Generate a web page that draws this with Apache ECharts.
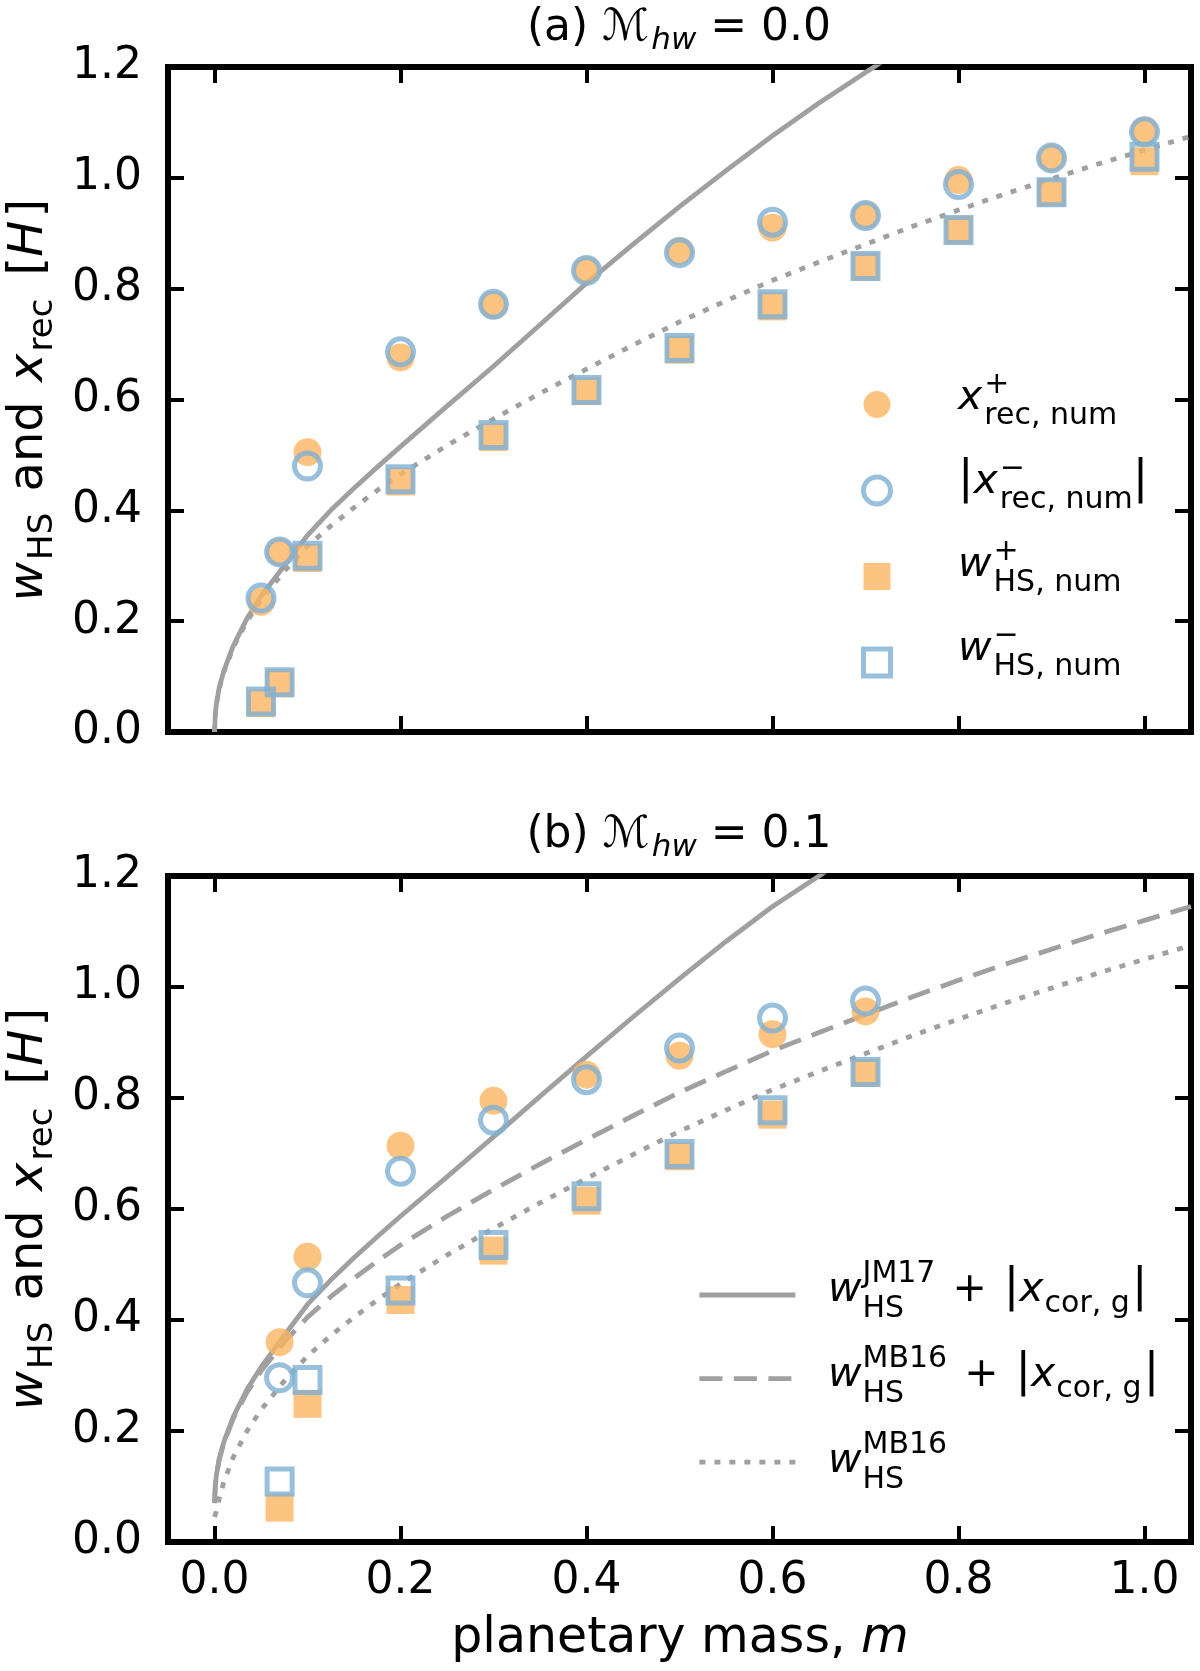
<!DOCTYPE html>
<html>
<head>
<meta charset="utf-8">
<script src="https://cdn.jsdelivr.net/npm/echarts@6/dist/echarts.min.js"></script>
<style>
html, body { margin: 0; background: #fff; }
#graph { width: 1200px; height: 1671px; }
</style>
</head>
<body>
<div id="graph"></div>
<script>
"use strict"

// ---- panel (a): M_hw = 0.0 ----
const massA = [0.05, 0.07, 0.1, 0.2, 0.3, 0.4, 0.5, 0.6, 0.7, 0.8, 0.9, 1.0];
const xrecPlusA = [0.235, 0.325, 0.505, 0.676, 0.770, 0.833, 0.868, 0.910, 0.932, 0.996, 1.036, 1.085];
const xrecMinusA = [0.242, 0.325, 0.480, 0.686, 0.772, 0.833, 0.865, 0.920, 0.932, 0.988, 1.036, 1.083];
const whsPlusA = [0.052, 0.088, 0.314, 0.452, 0.532, 0.615, 0.690, 0.768, 0.840, 0.906, 0.974, 1.030];
const whsMinusA = [0.055, 0.090, 0.318, 0.456, 0.536, 0.617, 0.693, 0.772, 0.841, 0.906, 0.974, 1.038];
// curves: [m, w]
const jm17A = [[0, 0], [0.001, 0.035], [0.002, 0.05], [0.005, 0.08], [0.01, 0.11], [0.02, 0.155], [0.035, 0.205],
    [0.05, 0.245], [0.075, 0.30], [0.1, 0.355], [0.125, 0.4], [0.15, 0.44], [0.175, 0.478], [0.2, 0.515],
    [0.25, 0.588], [0.3, 0.66], [0.35, 0.735], [0.4, 0.81], [0.45, 0.88], [0.5, 0.948], [0.55, 1.013],
    [0.6, 1.076], [0.65, 1.135], [0.7, 1.19], [0.72, 1.212]];
const mb16A = [[0, 0], [0.001, 0.035], [0.002, 0.05], [0.005, 0.078], [0.01, 0.108], [0.02, 0.152], [0.035, 0.2],
    [0.05, 0.238], [0.075, 0.29], [0.1, 0.335], [0.125, 0.372], [0.15, 0.405], [0.175, 0.436], [0.2, 0.465],
    [0.25, 0.517], [0.3, 0.565], [0.35, 0.611], [0.4, 0.655], [0.45, 0.698], [0.5, 0.74], [0.55, 0.778],
    [0.6, 0.815], [0.65, 0.848], [0.7, 0.88], [0.75, 0.912], [0.8, 0.942], [0.85, 0.971], [0.9, 0.998],
    [0.95, 1.025], [1.0, 1.05], [1.05, 1.075]];

// ---- panel (b): M_hw = 0.1 ----
const massB = [0.07, 0.1, 0.2, 0.3, 0.4, 0.5, 0.6, 0.7];
const xrecPlusB = [0.360, 0.514, 0.714, 0.795, 0.842, 0.876, 0.915, 0.956];
const xrecMinusB = [0.296, 0.467, 0.668, 0.760, 0.833, 0.890, 0.944, 0.975];
const whsPlusB = [0.062, 0.249, 0.436, 0.525, 0.615, 0.695, 0.770, 0.845];
const whsMinusB = [0.109, 0.292, 0.453, 0.535, 0.623, 0.699, 0.778, 0.847];
const jm17B = [[0, 0.07], [0.001, 0.105], [0.002, 0.12], [0.005, 0.15], [0.01, 0.18], [0.02, 0.225],
    [0.035, 0.275], [0.05, 0.315], [0.075, 0.372], [0.1, 0.428], [0.125, 0.472], [0.15, 0.512],
    [0.175, 0.55], [0.2, 0.587], [0.25, 0.658], [0.3, 0.73], [0.35, 0.803], [0.4, 0.875], [0.45, 0.946],
    [0.5, 1.015], [0.55, 1.082], [0.6, 1.145], [0.65, 1.2], [0.66, 1.212]];
const mb16CorB = [[0, 0.07], [0.001, 0.105], [0.002, 0.12], [0.005, 0.148], [0.01, 0.178], [0.02, 0.222],
    [0.035, 0.27], [0.05, 0.308], [0.075, 0.36], [0.1, 0.405], [0.125, 0.442], [0.15, 0.475],
    [0.175, 0.506], [0.2, 0.535], [0.25, 0.587], [0.3, 0.635], [0.35, 0.681], [0.4, 0.725], [0.45, 0.768],
    [0.5, 0.81], [0.55, 0.848], [0.6, 0.885], [0.65, 0.918], [0.7, 0.95], [0.75, 0.982], [0.8, 1.012],
    [0.85, 1.041], [0.9, 1.068], [0.95, 1.095], [1.0, 1.12], [1.05, 1.145]];
const mb16B = [[0, 0.045], [0.002, 0.055], [0.005, 0.078], [0.01, 0.108], [0.02, 0.152], [0.035, 0.2],
    [0.05, 0.238], [0.075, 0.29], [0.1, 0.335], [0.125, 0.372], [0.15, 0.405], [0.175, 0.436], [0.2, 0.465],
    [0.25, 0.517], [0.3, 0.565], [0.35, 0.611], [0.4, 0.655], [0.45, 0.698], [0.5, 0.74], [0.55, 0.778],
    [0.6, 0.815], [0.65, 0.848], [0.7, 0.88], [0.75, 0.912], [0.8, 0.942], [0.85, 0.971], [0.9, 0.998],
    [0.95, 1.025], [1.0, 1.05], [1.05, 1.075]];

const xTicks = [0, 0.2, 0.4, 0.6, 0.8, 1.0];

const ORANGE = "#fdb462", BLUE = "#7eb0d5", GREY = "#a0a0a0";
const FONT = "DejaVu Sans";

const zip = (xs, ys) => xs.map((x, i) => [x, ys[i]]);

// ---- small mathtext layout with graphic texts ----
const mctx = document.createElement("canvas").getContext("2d");
function textW(t, fs, it)
{
    mctx.font = (it ? "italic " : "") + fs + "px \"" + FONT + "\"";
    return mctx.measureText(t).width;
}
function txt(t, x, base, fs, it)
{
    return {
        type: "text", x: x, y: base - 0.36 * fs, silent: true,
        style: {
            text: t, fill: "#000", fontSize: fs, fontFamily: FONT, fontStyle: it ? "italic" : "normal",
            align: "left", verticalAlign: "middle", textAlign: "left", textVerticalAlign: "middle"
        }
    };
}
// tokens: {t, fs, it, dy} or stacked {sup, sub, fs, supDy, subDy}
function mathGroup(tokens, x, y, center, rotation)
{
    let cx = 0;
    const els = [];
    tokens.forEach(k =>
    {
        if (k.sup != null || k.sub != null)
        {
            let w = 0;
            if (k.sup != null) { els.push(txt(k.sup, cx, k.supDy, k.fs, false)); w = Math.max(w, textW(k.sup, k.fs)); }
            if (k.sub != null) { els.push(txt(k.sub, cx, k.subDy, k.fs, false)); w = Math.max(w, textW(k.sub, k.fs)); }
            cx += w;
        }
        else
        {
            els.push(txt(k.t, cx, k.dy || 0, k.fs, k.it));
            cx += textW(k.t, k.fs, k.it);
        }
        if (k.gap) cx += k.gap;
    });
    if (center) els.forEach(e => e.x -= cx / 2);
    return { type: "group", x: x, y: y, rotation: rotation || 0, silent: true, children: els };
}

const T = 44, S = 31;
const title = (p, v) => [{ t: "(" + p + ") ", fs: T }, { t: "\u2133", fs: T, gap: 2 }, { t: "hw", fs: S, it: true, dy: 8, gap: 14 },
    { t: "= " + v, fs: T }];
const L = 48, LS = 34;
const ylab = [{ t: "w", fs: L, it: true, gap: 2 }, { t: "HS", fs: LS, dy: 8, gap: 6 }, { t: " and ", fs: L, gap: 4 },
    { t: "x", fs: L, it: true, gap: 2 }, { t: "rec", fs: LS, dy: 8, gap: 8 }, { t: " [", fs: L }, { t: "H", fs: L, it: true, gap: 3 },
    { t: "]", fs: L }];
const M = 41, MS = 30;
const legA = [
    [{ t: "x", fs: M, it: true, gap: 2 }, { sup: "+", sub: "rec, num", fs: MS, supDy: -17, subDy: 14 }],
    [{ t: "|", fs: 46 }, { t: "x", fs: M, it: true, gap: 2 }, { sup: "\u2212", sub: "rec, num", fs: MS, supDy: -17, subDy: 14 }, { t: "|", fs: 46 }],
    [{ t: "w", fs: M, it: true, gap: 2 }, { sup: "+", sub: "HS, num", fs: MS, supDy: -17, subDy: 14 }],
    [{ t: "w", fs: M, it: true, gap: 2 }, { sup: "\u2212", sub: "HS, num", fs: MS, supDy: -17, subDy: 14 }]
];
const cor = [{ t: " + ", fs: M, gap: 4 }, { t: "|", fs: 46 }, { t: "x", fs: M, it: true, gap: 1 }, { t: "cor, g", fs: MS, dy: 10, gap: 2 }, { t: "|", fs: 46 }];
const legB = [
    [{ t: "w", fs: M, it: true, gap: 1 }, { sup: "JM17", sub: "HS", fs: MS, supDy: -20, subDy: 15, gap: 4 }].concat(cor),
    [{ t: "w", fs: M, it: true, gap: 1 }, { sup: "MB16", sub: "HS", fs: MS, supDy: -20, subDy: 15, gap: 4 }].concat(cor),
    [{ t: "w", fs: M, it: true, gap: 1 }, { sup: "MB16", sub: "HS", fs: MS, supDy: -20, subDy: 15 }]
];

const graphics = [
    mathGroup(title("a", "0.0"), 679, 44, true),
    mathGroup(title("b", "0.1"), 679, 851, true),
    mathGroup(ylab, 47, 400, true, Math.PI / 2),
    mathGroup(ylab, 47, 1209, true, Math.PI / 2),
    mathGroup([{ t: "planetary mass, ", fs: 49 }, { t: "m", fs: 49, it: true }], 680, 1657, true)
];
[413, 497, 580, 664].forEach((b, i) => graphics.push(mathGroup(legA[i], 958, b, false)));
[1305, 1390, 1476].forEach((b, i) => graphics.push(mathGroup(legB[i], 828, b, false)));

// ---- axes ----
const tick = { show: true, inside: true, length: 16, lineStyle: { color: "#000", width: 4 } };
function xAx(grid, pos, labels)
{
    return {
        type: "value", gridIndex: grid, position: pos, min: -0.05, max: 1.05,
        axisLine: { show: false, onZero: false }, splitLine: { show: false },
        axisTick: Object.assign({ customValues: xTicks }, tick),
        axisLabel: {
            show: labels, customValues: xTicks, margin: 18, color: "#000", fontSize: 44, fontFamily: FONT,
            formatter: v => v.toFixed(1)
        }
    };
}
function yAx(grid, pos, labels)
{
    return {
        type: "value", gridIndex: grid, position: pos, min: 0, max: 1.2, interval: 0.2,
        axisLine: { show: false, onZero: false }, splitLine: { show: false }, axisTick: tick,
        axisLabel: { show: labels, margin: 26, color: "#000", fontSize: 44, fontFamily: FONT, formatter: v => v.toFixed(1) }
    };
}

function curve(name, data, ax, type)
{
    return {
        name: name, type: "line", data: data, xAxisIndex: ax, yAxisIndex: ax, symbol: "none", showSymbol: false,
        smooth: false, silent: true, z: 2,
        itemStyle: { color: GREY, opacity: 0 },
        lineStyle: { color: GREY, width: 4.8, type: type, cap: "butt", join: "round" }
    };
}
function dots(name, xs, ys, ax, symbol, filled)
{
    return {
        name: name, type: "scatter", data: zip(xs, ys), xAxisIndex: ax, yAxisIndex: ax, symbol: symbol,
        symbolSize: filled ? 28 : (symbol === "rect" ? 25 : 26), silent: true, z: 3,
        itemStyle: filled ? { color: ORANGE, borderWidth: 0 } : { color: "transparent", borderColor: BLUE, borderWidth: 5 }
    };
}

const DASH = [23, 11.5], DOT = [6, 9];

const option = {
    animation: false,
    backgroundColor: "#fff",
    grid: [
        { left: 168, top: 67, width: 1023, height: 665, show: true, borderColor: "#000", borderWidth: 6, backgroundColor: "transparent" },
        { left: 168, top: 876, width: 1023, height: 666, show: true, borderColor: "#000", borderWidth: 6, backgroundColor: "transparent" }
    ],
    xAxis: [xAx(0, "bottom", false), xAx(0, "top", false), xAx(1, "bottom", true), xAx(1, "top", false)],
    yAxis: [yAx(0, "left", true), yAx(0, "right", false), yAx(1, "left", true), yAx(1, "right", false)],
    legend: [
        {
            orient: "vertical", left: 861, top: 391, padding: 0, itemWidth: 27, itemHeight: 27, itemGap: 56.5,
            selectedMode: false, formatter: () => "", textStyle: { fontSize: 1 },
            data: [
                { name: "xpA", itemStyle: { borderWidth: 0 } },
                { name: "xmA", itemStyle: { borderWidth: 5 } },
                { name: "wpA", itemStyle: { borderWidth: 0 } },
                { name: "wmA", itemStyle: { borderWidth: 5 } }
            ]
        },
        {
            orient: "vertical", left: 697, top: 1288, padding: 0, itemWidth: 96, itemHeight: 14, itemGap: 71,
            selectedMode: false, formatter: () => "", textStyle: { fontSize: 1 },
            lineStyle: { width: 4.8 }, itemStyle: { opacity: 0 },
            data: ["jm17B", "mb16CorB", "mb16B"]
        }
    ],
    series: [
        curve("jm17A", jm17A, 0, "solid"),
        curve("mb16A", mb16A, 0, DOT),
        dots("xpA", massA, xrecPlusA, 0, "circle", true),
        dots("xmA", massA, xrecMinusA, 0, "circle", false),
        dots("wpA", massA, whsPlusA, 0, "rect", true),
        dots("wmA", massA, whsMinusA, 0, "rect", false),
        curve("jm17B", jm17B, 2, "solid"),
        curve("mb16CorB", mb16CorB, 2, DASH),
        curve("mb16B", mb16B, 2, DOT),
        dots("xpB", massB, xrecPlusB, 2, "circle", true),
        dots("xmB", massB, xrecMinusB, 2, "circle", false),
        dots("wpB", massB, whsPlusB, 2, "rect", true),
        dots("wmB", massB, whsMinusB, 2, "rect", false)
    ],
    graphic: graphics
};

const myChart = echarts.init(document.getElementById("graph"), null, { renderer: "canvas" });
myChart.setOption(option);
</script>
</body>
</html>
